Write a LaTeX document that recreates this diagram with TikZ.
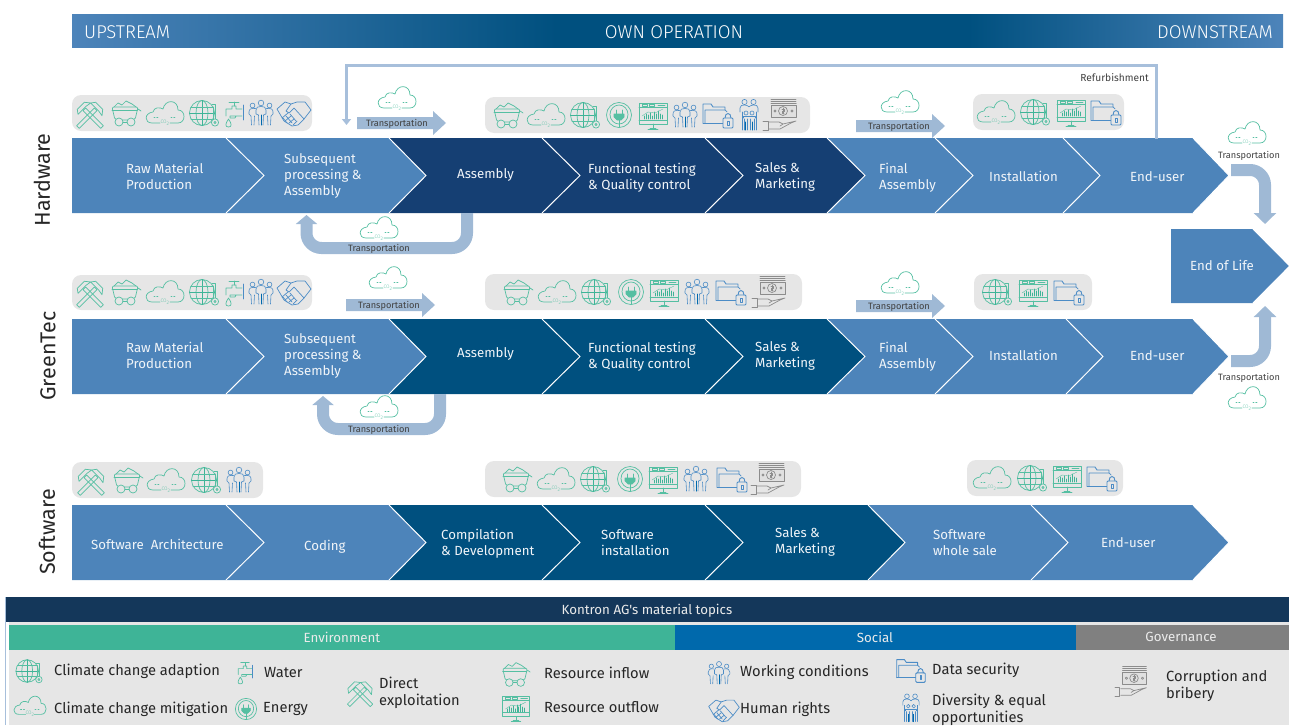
\documentclass[tikz,border=0pt]{standalone}
\usepackage{fontspec}
\setmainfont{Fira Sans Light}
\newfontfamily\regfont{Fira Sans}
\usetikzlibrary{arrows.meta}
\definecolor{lightb}{HTML}{4D84BA}
\definecolor{navy}{HTML}{153F73}
\definecolor{teal}{HTML}{00507F}
\definecolor{arrowb}{HTML}{9FB9D5}
\definecolor{lineb}{HTML}{A7BFDB}
\definecolor{pill}{HTML}{E6E6E6}
\definecolor{icg}{HTML}{55BFA2}
\definecolor{icb}{HTML}{4C8CC6}
\definecolor{icgray}{HTML}{8C8C8C}
\definecolor{barnavy}{HTML}{14375A}
\definecolor{envg}{HTML}{3EB497}
\definecolor{socb}{HTML}{0069AC}
\definecolor{govg}{HTML}{808080}
\pgfdeclarehorizontalshading{headshade}{100bp}{color(0bp)=(lightb);color(25bp)=(lightb);color(45bp)=(teal);color(62bp)=(teal);color(75bp)=(lightb);color(100bp)=(lightb)}
\tikzset{
 il/.style={line width=.7pt,line join=round,line cap=round},
 lab/.style={inner sep=0pt,align=left,anchor=west,yshift=-.3pt,text=white!92!lightb,font=\regfont\fontsize{13.25}{16}\selectfont},
 tport/.style={inner sep=0pt,text=black!75,font=\regfont\fontsize{9.2}{10}\selectfont},
 rowlab/.style={inner sep=0pt,rotate=90,text=black!85,font=\regfont\fontsize{21.5}{24}\selectfont},
 headlab/.style={inner sep=0pt,text=white,font=\fontsize{18.5}{20}\selectfont},
 toplab/.style={inner sep=0pt,text=white!92!black,font=\regfont\fontsize{13.3}{15}\selectfont},
 leglab/.style={inner sep=0pt,anchor=west,align=left,yshift=-1pt,text=black!85,font=\regfont\fontsize{14.7}{17}\selectfont},
 pillbox/.style={fill=pill,rounded corners=9pt,draw=none},
 thick arrow/.style={draw=arrowb,line width=12pt,rounded corners=15pt},
 iccloud/.pic={\begin{scope}[il,draw=icg]
   \draw (-5,11) -- (-13,11) .. controls (-21,11) and (-21,1) .. (-12,0) .. controls (-11,-5) and (-5,-5) .. (-2,-3) .. controls (0,-13) and (13,-13) .. (13,-2) .. controls (21,-2) and (21,11) .. (13,11) -- (5,11);
   \draw[dotted,line width=.9pt] (-11,5)--(-6,5) (6,5)--(11,5);
   \node[inner sep=0pt,text=icg,font=\fontsize{5}{5}\selectfont] at (0,10.5) {CO\textsubscript{2}};
 \end{scope}},
 icglobe/.pic={\begin{scope}[il,draw=icg]
   \draw (-2,0) circle (12.5);
   \draw (-2,0) ellipse (6 and 12.5);
   \draw[draw=envg] (-2,-12.5)--(-2,12.5) (-14.5,0)--(10.5,0);
   \draw (-13,-6)--(9,-6) (-13,6)--(9,6);
   \draw (8,-9)--(11.5,-9)--(11.5,6) (9,-6)--(9,6);
   \draw[fill=pill] (11,9.5) circle (3.6);
   \draw (11,9.5) circle (1.2);
 \end{scope}},
 ichammer/.pic={\begin{scope}[il,draw=icg,yshift=-2pt]
   \foreach \a in {45,-45}{
   \begin{scope}[rotate=\a]
     \draw (-1.8,-8) rectangle (1.8,17);
     \draw (-8,-9)--(-5,-13)--(5,-13)--(9,-8)--(3,-9)--(-3,-9)--cycle;
   \end{scope}}
 \end{scope}},
 iccart/.pic={\begin{scope}[il,draw=icg]
   \draw[rounded corners=2pt] (-13,-6)--(13,-6)--(10,7)--(-10,7)--cycle;
   \draw (-13,-2.5)--(12.5,-2.5);
   \draw (-11,-6)--(-7,-10)--(-3,-8)--(1,-12)--(7,-9)--(11,-6);
   \draw[fill=pill] (-6,9) circle (4) (6,9) circle (4);
   \draw (-2,9)--(2,9);
   \draw (13,-4)--(16,-2);
 \end{scope}},
 ictap/.pic={\begin{scope}[il,draw=icg]
   \draw (-8,3)--(-8,-4)--(-2,-4)--(-2,-7)--(2,-7)--(2,-4)--(8,-4) (8,3)--(2,3)--(1,5)--(-4,5)--(-4,3)--cycle;
   \draw (-5,-11)--(5,-11) (0,-11)--(0,-7);
   \draw[draw=icb] (9,-8)--(9,7);
   \draw (-5.5,6) .. controls (-9,11) and (-9,14) .. (-5.5,14) .. controls (-2,14) and (-2,11) .. (-5.5,6);
 \end{scope}},
 icpeople/.pic={\begin{scope}[line width=.6pt,line join=round,line cap=round,draw=icb]
   \draw (0,-10) circle (2.8) (-8.5,-7.5) circle (2.4) (8.5,-7.5) circle (2.4);
   \draw (-2,12)--(-2.5,2)--(-5,1)--(-5,-3) .. controls (-5,-6) and (-3,-6.5) .. (0,-6.5) .. controls (3,-6.5) and (5,-6) .. (5,-3)--(5,1)--(2.5,2)--(2,12);
   \draw (-5.5,-4.5) .. controls (-10,-5) and (-12,-4) .. (-12,-1)--(-12,1)--(-10,3)--(-9.5,12);
   \draw (5.5,-4.5) .. controls (10,-5) and (12,-4) .. (12,-1)--(12,1)--(10,3)--(9.5,12);
   \draw (-6.5,3)--(-7,12) (6.5,3)--(7,12);
   \draw[line width=1pt,draw=socb] (0,2)--(0,12);
 \end{scope}},
 ichand/.pic={\begin{scope}[il,draw=icb]
   \draw (-17,-4)--(-9,-11)--(-3,-9)--(3,-11)--(11,-11)--(17,-3)--(10,6)--(4,12)--(-2,13)--(-10,8)--cycle;
   \draw (-3,-9)--(-8,-2)--(-5,0)--(0,-5)--(10,6);
   \draw (-12,5)--(-6,0) (-9,8)--(-3,3) (-5,10)--(0,6) (-1,12)--(3,8);
   \draw (-11,5)--(-7,10) (-8,3)--(-2,10) (-4,1)--(2,8);
 \end{scope}},
 icplug/.pic={\begin{scope}[il,draw=icg]
   \draw (0,0) circle (12.5) (0,-.5) ellipse (9 and 9.5);
   \draw (-3,-5)--(-3,-1) (3,-5)--(3,-1);
   \draw[fill=icg] (-5,-1)--(5,-1)--(5,2)--(2,5)--(-2,5)--(-5,2)--cycle;
   \draw (0,5)--(0,12);
 \end{scope}},
 icmonitor/.pic={\begin{scope}[il,draw=icg]
   \draw (-14,-12) rectangle (14,9);
   \draw (-14,-8)--(14,-8) (-14,5)--(14,5);
   \draw (-11,-11) rectangle (-6,-9) (-4,-11) rectangle (1,-9) (5,-10)--(12,-10);
   \draw (0,9)--(0,13) (-5,14)--(5,14) (-3,13)--(3,13);
   \draw[draw=envg,line width=.9pt] (-9,4)--(-9,1) (-7,4)--(-7,-1) (-5,4)--(-5,0) (-3,4)--(-3,-2) (-1,4)--(-1,1) (1,4)--(1,-3) (3,4)--(3,-1) (5,4)--(5,-4) (7,4)--(7,-1) (9,4)--(9,0);
   \draw[line width=.4pt] (-11,1)--(-5,-3)--(2,-2)--(10,-6);
 \end{scope}},
 icfolder/.pic={\begin{scope}[il,draw=icb]
   \draw[line width=.9pt] (-15,8)--(-15,-11)--(-7,-11)--(-5,-8)--(7,-8)--(7,-5);
   \draw (-13,8)--(-13,-5)--(7,-5)--(9,-3);
   \draw[line width=.9pt] (-15,8)--(5,8);
   \draw[fill=pill,line width=.9pt,rounded corners=1pt] (5,3) rectangle (15,13);
   \draw[line width=.9pt] (7,3) .. controls (7,-3) and (13,-3) .. (13,3);
   \draw (9.5,6) rectangle (11,10);
 \end{scope}},
 icfamily/.pic={\begin{scope}[line width=.6pt,line join=round,line cap=round,draw=icb]
   \draw (-4.5,-13) circle (2.6) (4.5,-13) circle (2.6);
   \draw (-9,-3)--(-9,-7) .. controls (-9,-9.5) and (-7,-10) .. (-4.5,-10) .. controls (-2,-10) and (-1,-9) .. (0,-8) .. controls (1,-9) and (2,-10) .. (4.5,-10) .. controls (7,-10) and (9,-9.5) .. (9,-7)--(9,-3);
   \draw (-7,-3)--(-7,15) (7,-3)--(7,15);
   \draw (-3,-2) circle (2) (3,-2) circle (2);
   \draw (-6,3)--(-6,1)--(6,1)--(6,3) (-5,4)--(-5,15) (-1.5,4)--(-1.5,15) (1.5,4)--(1.5,15) (5,4)--(5,15);
   \draw[draw=socb,line width=1pt] (-3.2,7)--(-3.2,15) (3.2,7)--(3.2,15);
 \end{scope}},
 icmoney/.pic={\begin{scope}[il,draw=icgray]
   \draw (-12,-16)--(13,-16) (-12,-14)--(13,-14);
   \draw[line width=1pt] (-12,-12)--(13,-12);
   \draw[fill=black!12] (-12,-10) rectangle (13,2);
   \draw (0,-4) circle (4.5) (-8,-4) circle (1.2) (9,-4) circle (1.2);
   \draw (-1,-6)--(1,-6)--(1,-4)--(-1,-4)--(-1,-2)--(1,-2) (0,-7)--(0,-1);
   \draw (-20,6)--(-15,6)--(-15,15)--(-20,15);
   \draw (-14,7)--(-4,7)--(0,9)--(-3,11) (-14,14)--(-3,14)--(8,8)--(13,6)--(0,9);
 \end{scope}}
}
\newcommand{\chev}[7]{% name x0 x1 tip top bot color
  \fill[#7] (#2,#5)--(#3,#5)--(#4,{(#5+#6)/2})--(#3,#6)--(#2,#6)--cycle;
  \draw[white,line width=1pt] (#3,#5)--(#4,{(#5+#6)/2})--(#3,#6);
  \coordinate (#1) at (#4,{(#5+#6)/2});
}
\begin{document}
\begin{tikzpicture}[x=1pt,y=-1pt]
\useasboundingbox (0,0) rectangle (1289,725);

% header
\shade[shading=headshade] (72,15) rectangle (1283,48);
\node[headlab,anchor=west] (up) at (84,32) {UPSTREAM};
\node[headlab] (own) at (674,32) {OWN OPERATION};
\node[headlab,anchor=east] (down) at (1273,32) {DOWNSTREAM};

% row labels
\node[rowlab] (rhw) at (42,180) {Hardware};
\node[rowlab] (rgt) at (48,356) {GreenTec};
\node[rowlab] (rsw) at (47,532) {Software};

% pills
\fill[pillbox] (72,95) rectangle (312,131);
\fill[pillbox] (485,97) rectangle (810,133);
\fill[pillbox] (973,94) rectangle (1124,130);
\fill[pillbox] (72,275) rectangle (312,310);
\fill[pillbox] (485,274) rectangle (802,310);
\fill[pillbox] (974,274) rectangle (1092,310);
\fill[pillbox] (72,462) rectangle (263,498);
\fill[pillbox] (485,461) rectangle (801,497);
\fill[pillbox] (967,460) rectangle (1123,496);

% Hardware row
\chev{h8}{1063}{1193}{1229}{138}{213}{lightb}
\chev{h7}{935}{1063}{1100}{138}{213}{lightb}
\chev{h6}{827}{935}{973}{138}{213}{lightb}
\chev{h5}{705}{827}{865}{138}{213}{navy}
\chev{h4}{542}{705}{743}{138}{213}{navy}
\chev{h3}{389}{542}{580}{138}{213}{navy}
\chev{h2}{226}{389}{426}{138}{213}{lightb}
\chev{h1}{72}{226}{264}{138}{213}{lightb}
\node[lab] (th1) at (126,176) {Raw Material\\Production};
\node[lab] (th2) at (284,176) {Subsequent\\processing \&\\Assembly};
\node[lab] (th3) at (457,175) {Assembly};
\node[lab] (th4) at (588,177) {Functional testing\\\& Quality control};
\node[lab] (th5) at (755,177) {Sales \&\\Marketing};
\node[lab] (th6) at (879,177) {Final\\Assembly};
\node[lab] (th7) at (989,176) {Installation};
\node[lab] (th8) at (1130,176) {End-user};

% GreenTec row
\chev{g8}{1066}{1193}{1229}{319}{394}{lightb}
\chev{g7}{935}{1066}{1103}{319}{394}{lightb}
\chev{g6}{827}{935}{973}{319}{394}{lightb}
\chev{g5}{705}{827}{865}{319}{394}{teal}
\chev{g4}{542}{705}{743}{319}{394}{teal}
\chev{g3}{389}{542}{580}{319}{394}{teal}
\chev{g2}{226}{389}{426}{319}{394}{lightb}
\chev{g1}{72}{226}{264}{319}{394}{lightb}
\node[lab] (tg1) at (126,355) {Raw Material\\Production};
\node[lab] (tg2) at (284,356) {Subsequent\\processing \&\\Assembly};
\node[lab] (tg3) at (457,354) {Assembly};
\node[lab] (tg4) at (588,356) {Functional testing\\\& Quality control};
\node[lab] (tg5) at (755,356) {Sales \&\\Marketing};
\node[lab] (tg6) at (879,356) {Final\\Assembly};
\node[lab] (tg7) at (989,355) {Installation};
\node[lab] (tg8) at (1130,355) {End-user};

% Software row
\chev{s7}{1031}{1193}{1229}{505}{580}{lightb}
\chev{s6}{868}{1031}{1068}{505}{580}{lightb}
\chev{s5}{705}{868}{905}{505}{580}{teal}
\chev{s4}{542}{705}{743}{505}{580}{teal}
\chev{s3}{389}{542}{580}{505}{580}{teal}
\chev{s2}{226}{389}{426}{505}{580}{lightb}
\chev{s1}{72}{226}{264}{505}{580}{lightb}
\node[lab] (ts1) at (91,544) {Software\ \ Architecture};
\node[lab] (ts2) at (304,546) {Coding};
\node[lab] (ts3) at (441,543) {Compilation\\\& Development};
\node[lab] (ts4) at (601,542) {Software\\installation};
\node[lab] (ts5) at (775,542) {Sales \&\\Marketing};
\node[lab] (ts6) at (933,542) {Software\\whole sale};
\node[lab] (ts7) at (1101,542) {End-user};

% End of life
\chev{eol}{1171}{1253}{1290}{229}{303}{lightb}
\draw[white,line width=1.2pt] (1253,228.5)--(1290,266)--(1253,303.5);
\node[lab] (teol) at (1190,265) {End of Life};

% named connector ends
\coordinate (rA) at (1156,139);
\coordinate (rB) at (1156,65);
\coordinate (rC) at (346.5,65);
\coordinate (rD) at (346.5,125);
\draw[draw=lineb,line width=3pt,-{Triangle[length=6pt,width=9pt]}] (rA)--(rB)--(rC)--(rD);
\node[tport,anchor=east,font=\regfont\fontsize{10.2}{11}\selectfont] (refurb) at (1149,78) {Refurbishment};

\coordinate (u1a) at (467,213);
\coordinate (u1b) at (467,248);
\coordinate (u1c) at (306.5,248);
\coordinate (u1d) at (306.5,215);
\draw[thick arrow,-{Triangle[length=9pt,width=21pt]}] (u1a)--(u1b)--(u1c)--(u1d);
\coordinate (u2a) at (440,394);
\coordinate (u2b) at (440,429);
\coordinate (u2c) at (323,429);
\coordinate (u2d) at (323,396);
\draw[thick arrow,-{Triangle[length=9pt,width=21pt]}] (u2a)--(u2b)--(u2c)--(u2d);
\coordinate (c1a) at (1231,170);
\coordinate (c1b) at (1265,170);
\coordinate (c1c) at (1265,224);
\draw[thick arrow,-{Triangle[length=11pt,width=22pt]}] (c1a)--(c1b)--(c1c);
\coordinate (c2a) at (1231,361);
\coordinate (c2b) at (1265,361);
\coordinate (c2c) at (1265,306);
\draw[thick arrow,-{Triangle[length=11pt,width=22pt]}] (c2a)--(c2b)--(c2c);

% straight transport arrows
\fill[arrowb] (357,117)--(433,117)--(433,111)--(446,123)--(433,135)--(433,129)--(357,129)--cycle;
\fill[arrowb] (346,299)--(422,299)--(422,293)--(435,305)--(422,317)--(422,311)--(346,311)--cycle;
\fill[arrowb] (856,120)--(932,120)--(932,114)--(945,126)--(932,138)--(932,132)--(856,132)--cycle;
\fill[arrowb] (856,300)--(932,300)--(932,294)--(945,306)--(932,318)--(932,312)--(856,312)--cycle;
\node[tport] (tr1) at (397,123.5) {Transportation};
\node[tport] (tr2) at (389,305.5) {Transportation};
\node[tport] (tr3) at (899,126.5) {Transportation};
\node[tport] (tr4) at (899,306.5) {Transportation};
\node[tport] (tr5) at (379,248.5) {Transportation};
\node[tport] (tr6) at (379,429.5) {Transportation};
\node[tport] (tr7) at (1249,155.5) {Transportation};
\node[tport] (tr8) at (1249,377.5) {Transportation};

% free clouds
\pic at (397,97) {iccloud};
\pic at (379,227) {iccloud};
\pic at (900,101) {iccloud};
\pic at (388,277) {iccloud};
\pic at (379,406) {iccloud};
\pic at (900,282) {iccloud};
\pic at (1247,132) {iccloud};
\pic at (1247,397) {iccloud};

% Hardware icons
\pic at (90,113) {ichammer};
\pic at (125,113) {iccart};
\pic at (165,112) {iccloud};
\pic at (204,113) {icglobe};
\pic at (234,113) {ictap};
\pic at (261,113) {icpeople};
\pic at (294,113) {ichand};
\pic at (507,115) {iccart};
\pic at (546,114) {iccloud};
\pic at (585,115) {icglobe};
\pic at (619,115) {icplug};
\pic at (653,115) {icmonitor};
\pic at (685,115) {icpeople};
\pic at (718,115) {icfolder};
\pic at (749,115) {icfamily};
\pic at (783,115) {icmoney};
\pic at (996,111) {iccloud};
\pic at (1035,112) {icglobe};
\pic at (1071,112) {icmonitor};
\pic at (1106,112) {icfolder};

% GreenTec icons
\pic at (90,292) {ichammer};
\pic at (125,292) {iccart};
\pic at (165,291) {iccloud};
\pic at (204,292) {icglobe};
\pic at (234,292) {ictap};
\pic at (261,292) {icpeople};
\pic at (294,292) {ichand};
\pic at (517,292) {iccart};
\pic at (557,291) {iccloud};
\pic at (596,292) {icglobe};
\pic at (631,292) {icplug};
\pic at (664,292) {icmonitor};
\pic at (697,292) {icpeople};
\pic at (731,292) {icfolder};
\pic at (772,292) {icmoney};
\pic at (997,292) {icglobe};
\pic at (1033,292) {icmonitor};
\pic at (1069,292) {icfolder};

% Software icons
\pic at (91,480) {ichammer};
\pic at (127,480) {iccart};
\pic at (166,479) {iccloud};
\pic at (206,480) {icglobe};
\pic at (239,480) {icpeople};
\pic at (516,479) {iccart};
\pic at (556,478) {iccloud};
\pic at (595,479) {icglobe};
\pic at (630,479) {icplug};
\pic at (663,479) {icmonitor};
\pic at (696,479) {icpeople};
\pic at (732,479) {icfolder};
\pic at (771,479) {icmoney};
\pic at (992,477) {iccloud};
\pic at (1032,478) {icglobe};
\pic at (1067,478) {icmonitor};
\pic at (1102,478) {icfolder};

% Legend
\fill[pill] (9,622) rectangle (1289,725);
\fill[barnavy] (6,597) rectangle (1289,622);
\fill[envg] (9,625) rectangle (675,650);
\fill[socb] (675,625) rectangle (1076,650);
\fill[govg] (1076,625) rectangle (1289,650);
\draw[lineb,line width=.6pt] (5.5,597)--(5.5,725);
\node[toplab] (ktop) at (647,610.5) {Kontron AG's material topics};
\node[toplab] (env) at (342,637) {Environment};
\node[toplab] (soc) at (875,637) {Social};
\node[toplab] (gov) at (1181,637) {Governance};

\pic[scale=.9] at (29,671) {icglobe};
\pic[scale=.85] at (30,705) {iccloud};
\pic[scale=.85] at (245,672) {ictap};
\pic[scale=.85] at (246,709) {icplug};
\pic[scale=.95] at (360,692) {ichammer};
\pic[scale=.95] at (515,674) {iccart};
\pic[scale=.95] at (516,708) {icmonitor};
\pic[scale=.9] at (719,673) {icpeople};
\pic[scale=.9] at (724,710) {ichand};
\pic[scale=.95] at (911,670) {icfolder};
\pic[scale=.9] at (911,708) {icfamily};
\pic[scale=.95] at (1134,682) {icmoney};

\node[leglab] (l1) at (54,670) {Climate change adaption};
\node[leglab] (l2) at (54,708) {Climate change mitigation};
\node[leglab] (l3) at (264,671.5) {Water};
\node[leglab] (l4) at (263,708) {Energy};
\node[leglab] (l5) at (379,691.5) {Direct\\exploitation};
\node[leglab] (l6) at (544,672) {Resource inflow};
\node[leglab] (l7) at (544,706) {Resource outflow};
\node[leglab] (l8) at (740,671.5) {Working conditions};
\node[leglab] (l9) at (740,708) {Human rights};
\node[leglab] (l10) at (932,669.5) {Data security};
\node[leglab] (l11) at (932,708.5) {Diversity \& equal\\opportunities};
\node[leglab] (l12) at (1166,684.5) {Corruption and\\bribery};
\end{tikzpicture}
\end{document}
